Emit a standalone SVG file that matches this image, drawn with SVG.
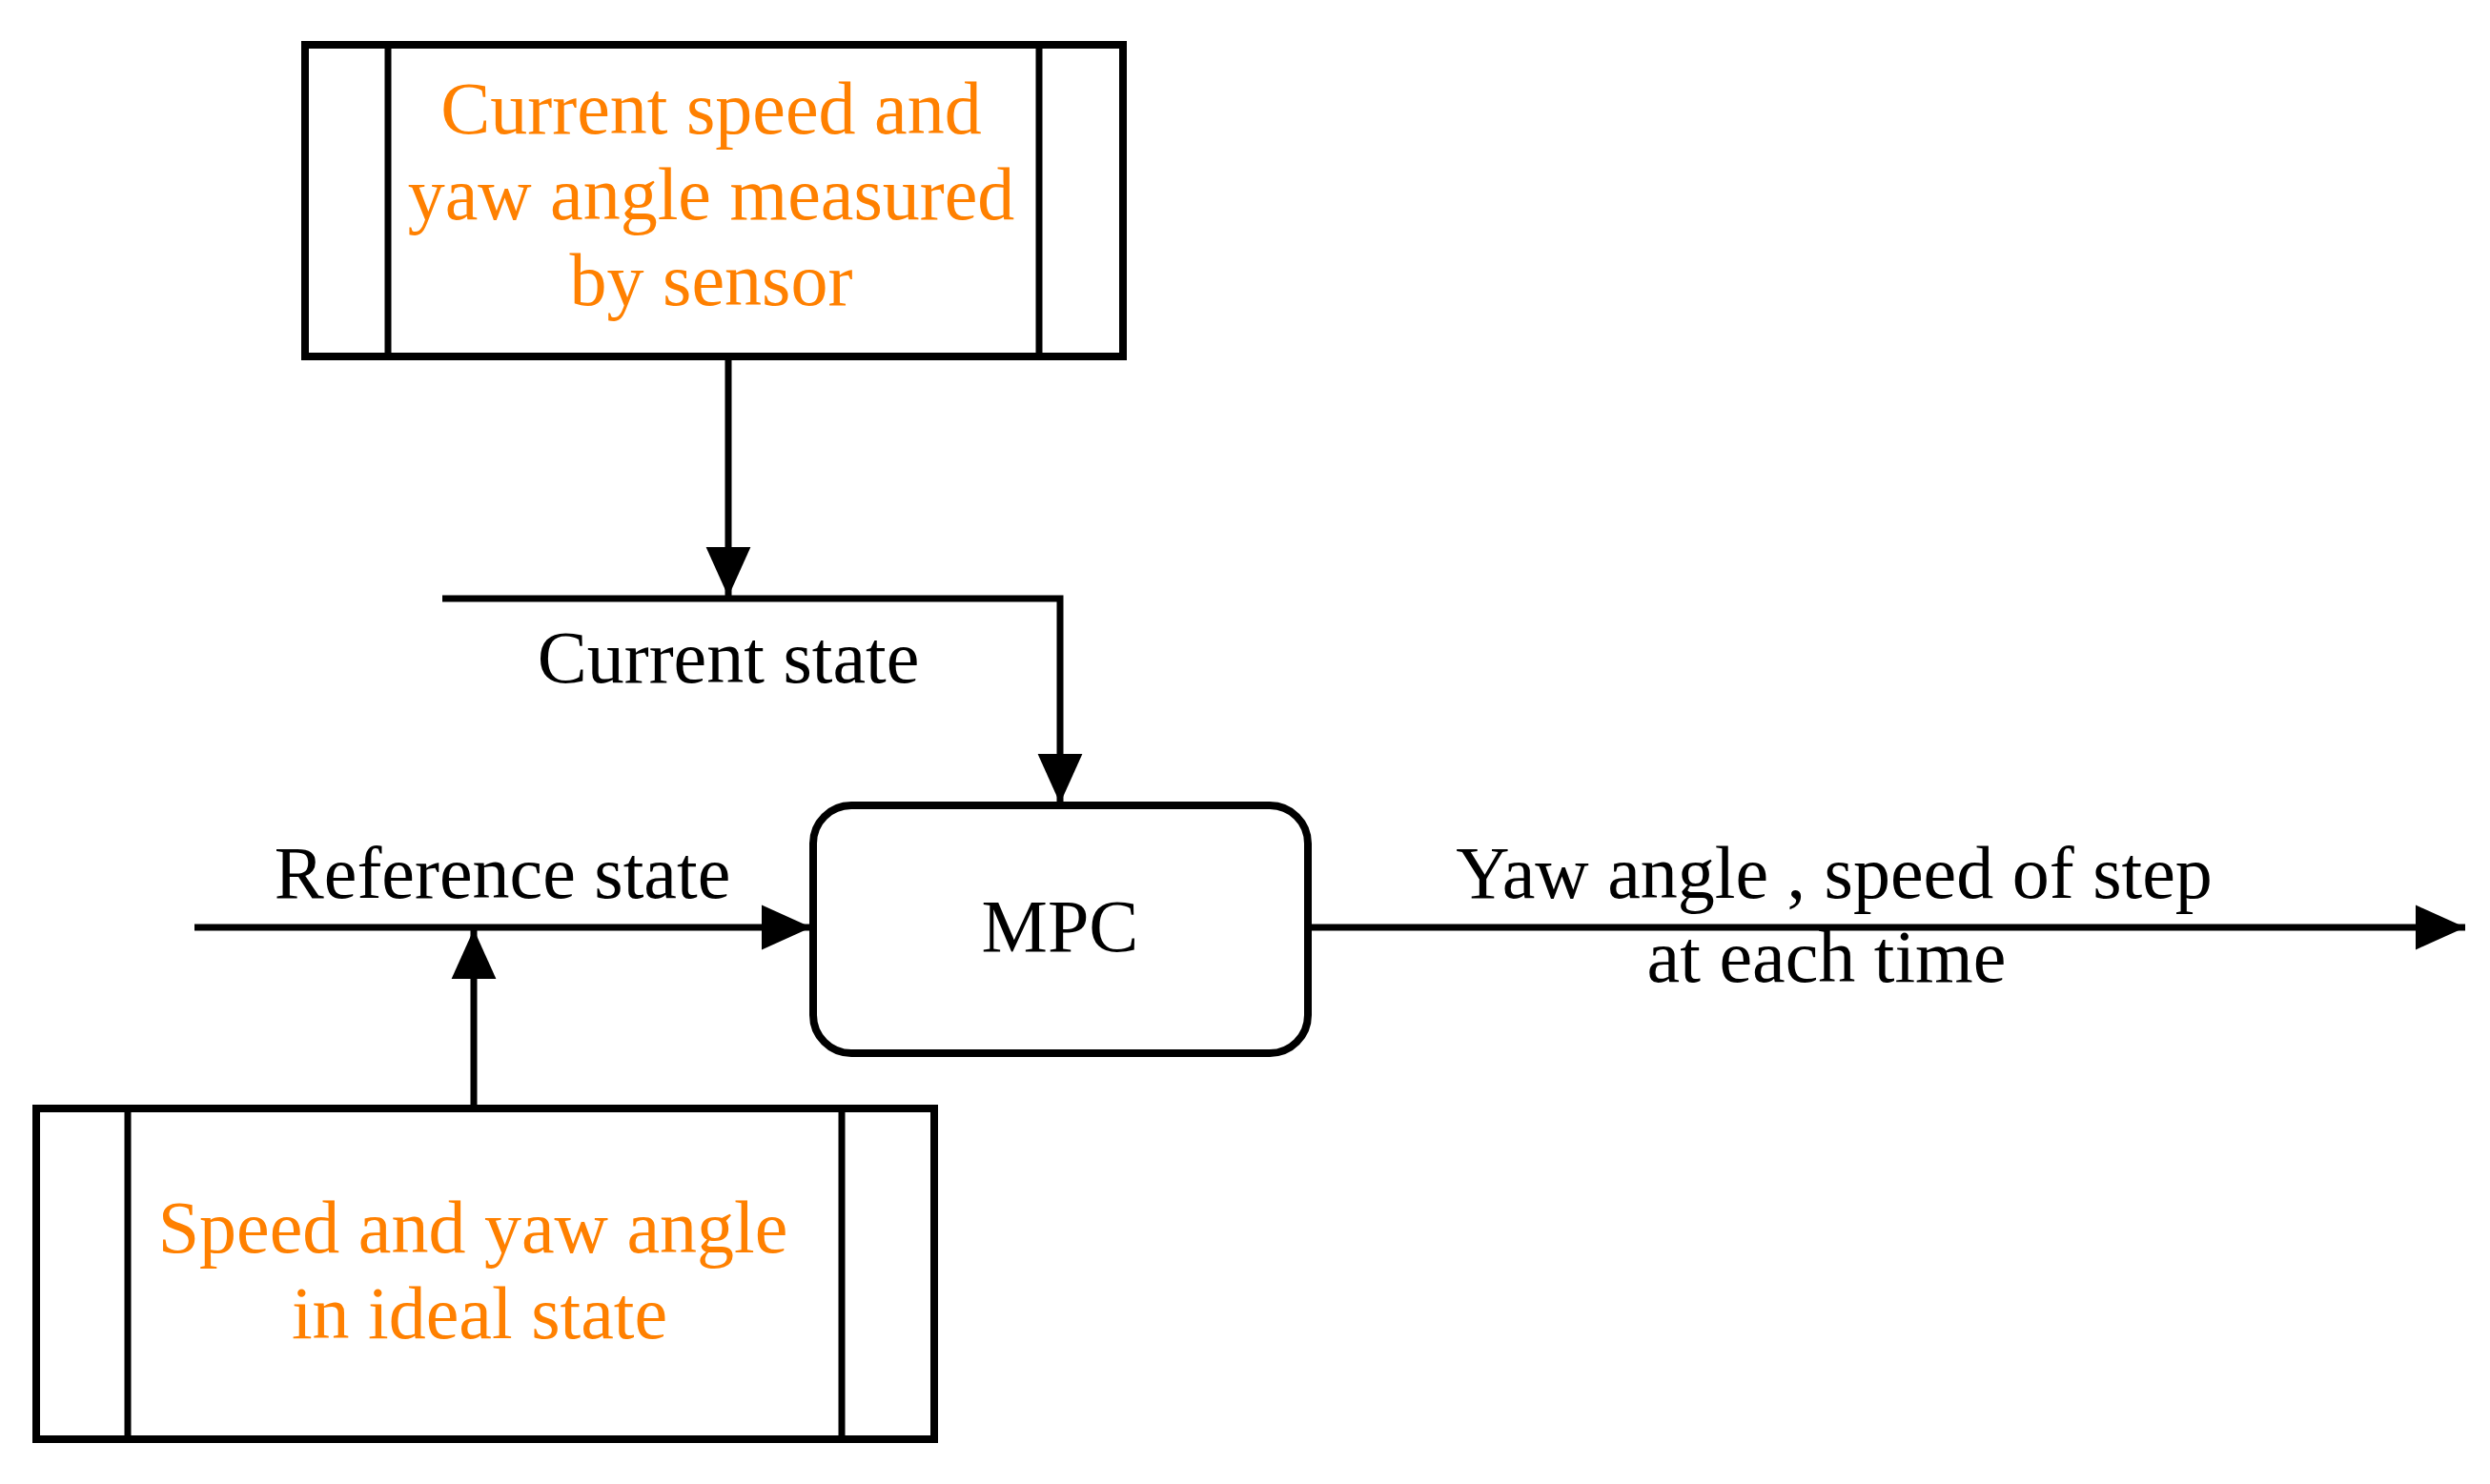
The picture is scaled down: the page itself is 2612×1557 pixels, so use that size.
<svg xmlns="http://www.w3.org/2000/svg" width="2612" height="1557" viewBox="0 0 2612 1557">
<style>
.b{fill:#fff;stroke:#000;stroke-width:8}
.l{fill:none;stroke:#000;stroke-width:7}
text{font-family:"Liberation Serif","Times New Roman",serif;font-size:78px;text-anchor:middle}
.o{fill:#FF8000}
</style>
<defs>
<marker id="ah" viewBox="0 0 10 10" refX="10" refY="5" markerWidth="52" markerHeight="52" orient="auto" markerUnits="userSpaceOnUse"><path d="M0,0.5L10,5L0,9.5z"/></marker></defs>
<g id="connectors">
<line class="l" x1="764" y1="374" x2="764" y2="626" marker-end="url(#ah)"/>
<polyline class="l" points="464,628 1112,628 1112,843" marker-end="url(#ah)"/>
<line class="l" x1="204" y1="973" x2="851" y2="973" marker-end="url(#ah)"/>
<line class="l" x1="497" y1="1163" x2="497" y2="975" marker-end="url(#ah)"/>
<line class="l" x1="1372" y1="973" x2="2586" y2="973" marker-end="url(#ah)"/>
<text x="764" y="716">Current state</text>
<text x="527" y="942">Reference state</text>
<text x="1924" y="942">Yaw angle , speed of step</text>
<text x="1916" y="1030">at each time</text>
</g>
<g id="sensor">
<rect class="b" x="320" y="47" width="858" height="327"/>
<line class="l" x1="407" y1="47" x2="407" y2="374"/>
<line class="l" x1="1090" y1="47" x2="1090" y2="374"/>
<text class="o" x="746" y="140">Current speed and</text>
<text class="o" x="746" y="230">yaw angle measured</text>
<text class="o" x="746" y="320">by sensor</text>
</g>
<g id="mpc">
<rect class="b" x="853" y="845" width="519" height="260" rx="40"/>
<text x="1112" y="998">MPC</text>
</g>
<g id="ideal">
<rect class="b" x="38" y="1163" width="942" height="347"/>
<line class="l" x1="134" y1="1163" x2="134" y2="1510"/>
<line class="l" x1="883" y1="1163" x2="883" y2="1510"/>
<text class="o" x="496" y="1314">Speed and yaw angle</text>
<text class="o" x="503" y="1404">in ideal state</text>
</g>
</svg>
